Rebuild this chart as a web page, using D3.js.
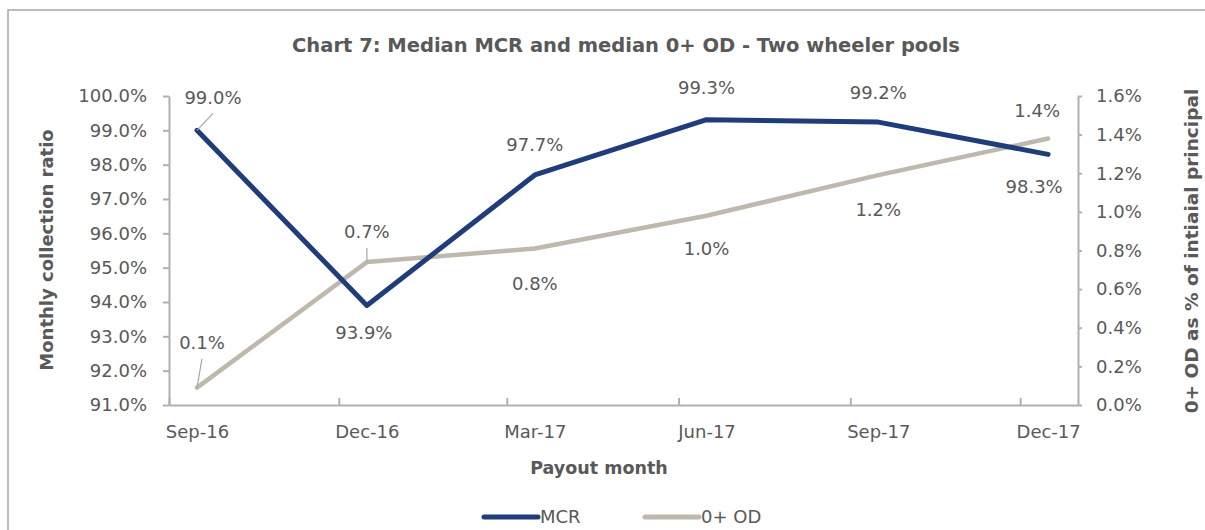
<!DOCTYPE html>
<html>
<head>
<meta charset="utf-8">
<script src="https://cdn.jsdelivr.net/npm/d3@7"></script>
<style>
  body { margin: 0; background: #fff; }
  svg { display: block; font-family: "DejaVu Sans", sans-serif; }
</style>
</head>
<body>
<div id="app"></div>
<script>
`use strict`;

// data
const months = [`Sep-16`, `Dec-16`, `Mar-17`, `Jun-17`, `Sep-17`, `Dec-17`];
const dates = [`2016-09-16`, `2016-12-16`, `2017-03-16`, `2017-06-16`, `2017-09-16`, `2017-12-16`];
const mcr = [0.990, 0.939, 0.977, 0.9931, 0.9924, 0.983];
const od = [0.0009, 0.0074, 0.0081, 0.0098, 0.0119, 0.0138];
const leftTicks = [0.91, 0.92, 0.93, 0.94, 0.95, 0.96, 0.97, 0.98, 0.99, 1.00];
const rightTicks = [0, 0.002, 0.004, 0.006, 0.008, 0.010, 0.012, 0.014, 0.016];

const W = 1205, H = 530;
const grey = `#595959`, axisGrey = `#b0b0b0`;
const navy = `#1f3d7a`, sand = `#bfb8ac`;

// label offsets (dx, dy) from each point, and whether a leader line is drawn
const mcrLab = [[16, -33, true], [-3, 27], [0, -30], [0, -32], [0, -29], [-14, 32]];
const odLab = [[5, -45, true], [0, -30, true], [0, 35], [0, 33], [0, 35], [-11, -28]];

let parse = d3.timeParse(`%Y-%m-%d`);
let pts = dates.map((d, i) => ({date: parse(d), month: months[i], mcr: mcr[i], od: od[i]}));

let start = new Date(2016, 8, 1), end = new Date(2018, 0, 1);

let x = d3.scaleTime().domain([start, end]).range([169, 1078]);
let yL = d3.scaleLinear().domain([0.91, 1.00]).range([405, 96]);
let yR = d3.scaleLinear().domain([0, 0.016]).range([405, 96]);

let SVG = d3.select(`#app`).append(`svg`).attr(`width`, W).attr(`height`, H);

// outer chart border
SVG.append(`rect`).attr(`x`, 8).attr(`y`, 10).attr(`width`, W).attr(`height`, H)
  .attr(`fill`, `none`).attr(`stroke`, `#a6a6a6`).attr(`stroke-width`, 1.5);

SVG.append(`text`).attr(`x`, 626).attr(`y`, 52).attr(`text-anchor`, `middle`)
  .attr(`font-size`, `19.5px`).attr(`font-weight`, `bold`).attr(`fill`, grey)
  .text(`Chart 7: Median MCR and median 0+ OD - Two wheeler pools`);

// left axis
let gL = SVG.append(`g`).attr(`transform`, `translate(169,0)`)
  .call(d3.axisLeft(yL).tickValues(leftTicks).tickFormat(d3.format(`.1%`)).tickSizeInner(6).tickSizeOuter(0).tickPadding(16));

// right axis
let gR = SVG.append(`g`).attr(`transform`, `translate(1078,0)`)
  .call(d3.axisRight(yR).tickValues(rightTicks).tickFormat(d3.format(`.1%`)).tickSizeInner(4).tickSizeOuter(0).tickPadding(14));

// bottom axis: tick marks on quarter starts, labels centred on the data months
let gB = SVG.append(`g`).attr(`transform`, `translate(0,405)`)
  .call(d3.axisBottom(x).tickValues(d3.timeMonth.range(start, end, 3)).tickFormat(``).tickSizeInner(-7).tickSizeOuter(0));

let gBL = SVG.append(`g`).attr(`transform`, `translate(0,405)`)
  .call(d3.axisBottom(x).tickValues(pts.map(d => d.date)).tickFormat((d, i) => months[i]).tickSize(0).tickPadding(20));
gBL.select(`.domain`).remove();

[gL, gR, gB, gBL].forEach(g => {
  g.selectAll(`.domain, line`).attr(`stroke`, axisGrey).attr(`stroke-width`, 2);
  g.selectAll(`text`).attr(`fill`, grey).attr(`font-size`, `18px`).attr(`font-family`, `"DejaVu Sans", sans-serif`);
});

// axis titles
SVG.append(`text`).attr(`transform`, `translate(53,250) rotate(-90)`).attr(`text-anchor`, `middle`)
  .attr(`font-size`, `18px`).attr(`font-weight`, `bold`).attr(`fill`, grey).text(`Monthly collection ratio`);

SVG.append(`text`).attr(`transform`, `translate(1198,251) rotate(-90)`).attr(`text-anchor`, `middle`)
  .attr(`font-size`, `18.5px`).attr(`font-weight`, `bold`).attr(`fill`, grey).text(`0+ OD as % of intiaial principal`);

SVG.append(`text`).attr(`x`, 599).attr(`y`, 474).attr(`text-anchor`, `middle`)
  .attr(`font-size`, `17.5px`).attr(`font-weight`, `bold`).attr(`fill`, grey).text(`Payout month`);

// lines
let lineL = d3.line().x(d => x(d.date)).y(d => yL(d.mcr));
let lineR = d3.line().x(d => x(d.date)).y(d => yR(d.od));

SVG.append(`path`).datum(pts).attr(`d`, lineR).attr(`fill`, `none`)
  .attr(`stroke`, sand).attr(`stroke-width`, 4.5).attr(`stroke-linejoin`, `round`).attr(`stroke-linecap`, `round`);

SVG.append(`path`).datum(pts).attr(`d`, lineL).attr(`fill`, `none`)
  .attr(`stroke`, navy).attr(`stroke-width`, 5).attr(`stroke-linejoin`, `round`).attr(`stroke-linecap`, `round`);

// data labels
function labels (key, scale, fmt, offs) {

  pts.forEach((d, i) => {

    let px = x(d.date), py = scale(d[key]);
    let lx = px + offs[i][0], ly = py + offs[i][1];

    if (offs[i][2]) {
      SVG.append(`path`).attr(`d`, `M${px} ${py} L${lx} ${ly + 16}`)
        .attr(`stroke`, `#a6a6a6`).attr(`stroke-width`, 1.2).attr(`fill`, `none`);
    }

    SVG.append(`text`).attr(`x`, lx).attr(`y`, ly).attr(`text-anchor`, `middle`).attr(`dy`, `0.35em`)
      .attr(`font-size`, `18px`).attr(`fill`, grey).text(fmt(d[key]));
  });
}

labels(`mcr`, yL, d3.format(`.1%`), mcrLab);
labels(`od`, yR, d3.format(`.1%`), odLab);

// legend
let legend = [[`MCR`, navy, 484], [`0+ OD`, sand, 645]];

legend.forEach(L => {
  SVG.append(`line`).attr(`x1`, L[2]).attr(`x2`, L[2] + 54).attr(`y1`, 517).attr(`y2`, 517)
    .attr(`stroke`, L[1]).attr(`stroke-width`, 5).attr(`stroke-linecap`, `round`);
  SVG.append(`text`).attr(`x`, L[2] + 56).attr(`y`, 517).attr(`dy`, `0.35em`)
    .attr(`font-size`, `18px`).attr(`fill`, grey).text(L[0]);
});
</script>
</body>
</html>
